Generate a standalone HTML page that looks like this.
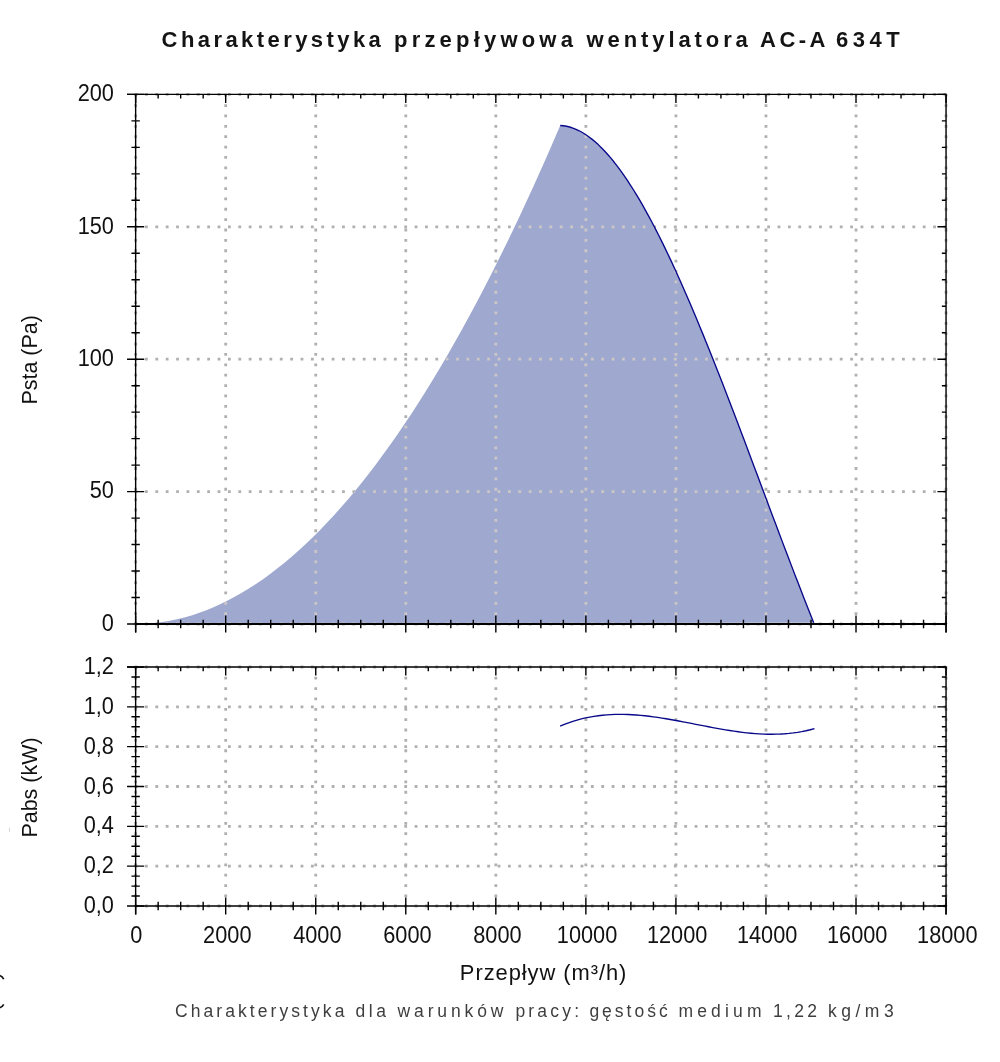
<!DOCTYPE html>
<html lang="pl"><head><meta charset="utf-8"><title>Charakterystyka przepływowa wentylatora AC-A 634T</title>
<style>html,body{margin:0;padding:0;background:#fff}svg{display:block}text{font-family:"Liberation Sans",sans-serif;fill:#111}.tk{font-size:23.9px}.al{font-size:21.9px}.ttl{font-weight:bold;font-size:22px;fill:#141414}.cap{font-size:17.5px;fill:#3e3e3e}</style></head><body>
<svg width="1000" height="1062" viewBox="0 0 1000 1062">
<rect width="1000" height="1062" fill="#fff"/>
<defs><clipPath id="fc"><path d="M135.65,624 L142.73,623.86 L149.8,623.45 L156.88,622.75 L163.95,621.78 L171.03,620.54 L178.11,619.01 L185.18,617.21 L192.26,615.14 L199.33,612.78 L206.41,610.15 L213.48,607.24 L220.56,604.06 L227.64,600.6 L234.71,596.86 L241.79,592.84 L248.86,588.55 L255.94,583.98 L263.02,579.13 L270.09,574.01 L277.17,568.61 L284.24,562.93 L291.32,556.98 L298.39,550.75 L305.47,544.24 L312.55,537.45 L319.62,530.39 L326.7,523.05 L333.77,515.44 L340.85,507.54 L347.93,499.38 L355,490.93 L362.08,482.2 L369.15,473.2 L376.23,463.93 L383.3,454.37 L390.38,444.54 L397.46,434.43 L404.53,424.05 L411.61,413.38 L418.68,402.44 L425.76,391.23 L432.84,379.74 L439.91,367.96 L446.99,355.92 L454.06,343.59 L461.14,330.99 L468.21,318.11 L475.29,304.96 L482.37,291.53 L489.44,277.82 L496.52,263.83 L503.59,249.57 L510.67,235.03 L517.75,220.22 L524.82,205.12 L531.9,189.75 L538.97,174.1 L546.05,158.18 L553.12,141.98 L560.2,125.5 L563.37,125.75 L566.54,126.25 L569.71,127.01 L572.88,128.02 L576.04,129.28 L579.21,130.78 L582.38,132.51 L585.55,134.48 L588.72,136.68 L591.89,139.11 L595.06,141.75 L598.23,144.62 L601.39,147.69 L604.56,150.98 L607.73,154.47 L610.9,158.16 L614.07,162.04 L617.24,166.12 L620.41,170.39 L623.58,174.84 L626.74,179.47 L629.91,184.28 L633.08,189.26 L636.25,194.4 L639.42,199.71 L642.59,205.18 L645.76,210.81 L648.93,216.58 L652.09,222.5 L655.26,228.57 L658.43,234.77 L661.6,241.11 L664.77,247.58 L667.94,254.17 L671.11,260.89 L674.28,267.73 L677.44,274.67 L680.61,281.73 L683.78,288.9 L686.95,296.16 L690.12,303.53 L693.29,310.98 L696.46,318.53 L699.62,326.16 L702.79,333.87 L705.96,341.66 L709.13,349.52 L712.3,357.45 L715.47,365.45 L718.64,373.5 L721.81,381.61 L724.98,389.77 L728.14,397.98 L731.31,406.24 L734.48,414.53 L737.65,422.86 L740.82,431.22 L743.99,439.61 L747.16,448.02 L750.33,456.45 L753.49,464.89 L756.66,473.35 L759.83,481.81 L763,490.27 L766.17,498.74 L769.34,507.19 L772.51,515.64 L775.68,524.07 L778.84,532.49 L782.01,540.88 L785.18,549.25 L788.35,557.58 L791.52,565.88 L794.69,574.14 L797.86,582.36 L801.03,590.53 L804.19,598.65 L807.36,606.72 L810.53,614.72 L813.7,622.66 Z"/></clipPath></defs>
<g stroke="#b0b0b0" stroke-width="2.8" stroke-dasharray="2.8 7.57" fill="none" >
<path d="M135.65,93.8 V624"/>
<path d="M135.65,666.4 V906"/>
<path d="M225.69,93.8 V624"/>
<path d="M225.69,666.4 V906"/>
<path d="M315.74,93.8 V624"/>
<path d="M315.74,666.4 V906"/>
<path d="M405.78,93.8 V624"/>
<path d="M405.78,666.4 V906"/>
<path d="M495.83,93.8 V624"/>
<path d="M495.83,666.4 V906"/>
<path d="M585.87,93.8 V624"/>
<path d="M585.87,666.4 V906"/>
<path d="M675.92,93.8 V624"/>
<path d="M675.92,666.4 V906"/>
<path d="M765.96,93.8 V624"/>
<path d="M765.96,666.4 V906"/>
<path d="M856.01,93.8 V624"/>
<path d="M856.01,666.4 V906"/>
<path d="M946.05,93.8 V624"/>
<path d="M946.05,666.4 V906"/>
<path d="M134.65,624 H946.05"/>
<path d="M134.65,491.6 H946.05"/>
<path d="M134.65,359.2 H946.05"/>
<path d="M134.65,226.8 H946.05"/>
<path d="M134.65,94.4 H946.05"/>
<path d="M134.65,906 H946.05"/>
<path d="M134.65,866.17 H946.05"/>
<path d="M134.65,826.33 H946.05"/>
<path d="M134.65,786.5 H946.05"/>
<path d="M134.65,746.67 H946.05"/>
<path d="M134.65,706.83 H946.05"/>
<path d="M134.65,667 H946.05"/>
</g>
<path d="M135.65,624 L142.73,623.86 L149.8,623.45 L156.88,622.75 L163.95,621.78 L171.03,620.54 L178.11,619.01 L185.18,617.21 L192.26,615.14 L199.33,612.78 L206.41,610.15 L213.48,607.24 L220.56,604.06 L227.64,600.6 L234.71,596.86 L241.79,592.84 L248.86,588.55 L255.94,583.98 L263.02,579.13 L270.09,574.01 L277.17,568.61 L284.24,562.93 L291.32,556.98 L298.39,550.75 L305.47,544.24 L312.55,537.45 L319.62,530.39 L326.7,523.05 L333.77,515.44 L340.85,507.54 L347.93,499.38 L355,490.93 L362.08,482.2 L369.15,473.2 L376.23,463.93 L383.3,454.37 L390.38,444.54 L397.46,434.43 L404.53,424.05 L411.61,413.38 L418.68,402.44 L425.76,391.23 L432.84,379.74 L439.91,367.96 L446.99,355.92 L454.06,343.59 L461.14,330.99 L468.21,318.11 L475.29,304.96 L482.37,291.53 L489.44,277.82 L496.52,263.83 L503.59,249.57 L510.67,235.03 L517.75,220.22 L524.82,205.12 L531.9,189.75 L538.97,174.1 L546.05,158.18 L553.12,141.98 L560.2,125.5 L563.37,125.75 L566.54,126.25 L569.71,127.01 L572.88,128.02 L576.04,129.28 L579.21,130.78 L582.38,132.51 L585.55,134.48 L588.72,136.68 L591.89,139.11 L595.06,141.75 L598.23,144.62 L601.39,147.69 L604.56,150.98 L607.73,154.47 L610.9,158.16 L614.07,162.04 L617.24,166.12 L620.41,170.39 L623.58,174.84 L626.74,179.47 L629.91,184.28 L633.08,189.26 L636.25,194.4 L639.42,199.71 L642.59,205.18 L645.76,210.81 L648.93,216.58 L652.09,222.5 L655.26,228.57 L658.43,234.77 L661.6,241.11 L664.77,247.58 L667.94,254.17 L671.11,260.89 L674.28,267.73 L677.44,274.67 L680.61,281.73 L683.78,288.9 L686.95,296.16 L690.12,303.53 L693.29,310.98 L696.46,318.53 L699.62,326.16 L702.79,333.87 L705.96,341.66 L709.13,349.52 L712.3,357.45 L715.47,365.45 L718.64,373.5 L721.81,381.61 L724.98,389.77 L728.14,397.98 L731.31,406.24 L734.48,414.53 L737.65,422.86 L740.82,431.22 L743.99,439.61 L747.16,448.02 L750.33,456.45 L753.49,464.89 L756.66,473.35 L759.83,481.81 L763,490.27 L766.17,498.74 L769.34,507.19 L772.51,515.64 L775.68,524.07 L778.84,532.49 L782.01,540.88 L785.18,549.25 L788.35,557.58 L791.52,565.88 L794.69,574.14 L797.86,582.36 L801.03,590.53 L804.19,598.65 L807.36,606.72 L810.53,614.72 L813.7,622.66 Z" fill="#9fa9d0"/>
<g stroke="#ccc6c6" stroke-width="2.8" stroke-dasharray="2.8 7.57" fill="none" clip-path="url(#fc)">
<path d="M135.65,93.8 V624"/>
<path d="M135.65,666.4 V906"/>
<path d="M225.69,93.8 V624"/>
<path d="M225.69,666.4 V906"/>
<path d="M315.74,93.8 V624"/>
<path d="M315.74,666.4 V906"/>
<path d="M405.78,93.8 V624"/>
<path d="M405.78,666.4 V906"/>
<path d="M495.83,93.8 V624"/>
<path d="M495.83,666.4 V906"/>
<path d="M585.87,93.8 V624"/>
<path d="M585.87,666.4 V906"/>
<path d="M675.92,93.8 V624"/>
<path d="M675.92,666.4 V906"/>
<path d="M765.96,93.8 V624"/>
<path d="M765.96,666.4 V906"/>
<path d="M856.01,93.8 V624"/>
<path d="M856.01,666.4 V906"/>
<path d="M946.05,93.8 V624"/>
<path d="M946.05,666.4 V906"/>
<path d="M134.65,624 H946.05"/>
<path d="M134.65,491.6 H946.05"/>
<path d="M134.65,359.2 H946.05"/>
<path d="M134.65,226.8 H946.05"/>
<path d="M134.65,94.4 H946.05"/>
<path d="M134.65,906 H946.05"/>
<path d="M134.65,866.17 H946.05"/>
<path d="M134.65,826.33 H946.05"/>
<path d="M134.65,786.5 H946.05"/>
<path d="M134.65,746.67 H946.05"/>
<path d="M134.65,706.83 H946.05"/>
<path d="M134.65,667 H946.05"/>
</g>
<path d="M560.2,125.5 L563.37,125.75 L566.54,126.25 L569.71,127.01 L572.88,128.02 L576.04,129.28 L579.21,130.78 L582.38,132.51 L585.55,134.48 L588.72,136.68 L591.89,139.11 L595.06,141.75 L598.23,144.62 L601.39,147.69 L604.56,150.98 L607.73,154.47 L610.9,158.16 L614.07,162.04 L617.24,166.12 L620.41,170.39 L623.58,174.84 L626.74,179.47 L629.91,184.28 L633.08,189.26 L636.25,194.4 L639.42,199.71 L642.59,205.18 L645.76,210.81 L648.93,216.58 L652.09,222.5 L655.26,228.57 L658.43,234.77 L661.6,241.11 L664.77,247.58 L667.94,254.17 L671.11,260.89 L674.28,267.73 L677.44,274.67 L680.61,281.73 L683.78,288.9 L686.95,296.16 L690.12,303.53 L693.29,310.98 L696.46,318.53 L699.62,326.16 L702.79,333.87 L705.96,341.66 L709.13,349.52 L712.3,357.45 L715.47,365.45 L718.64,373.5 L721.81,381.61 L724.98,389.77 L728.14,397.98 L731.31,406.24 L734.48,414.53 L737.65,422.86 L740.82,431.22 L743.99,439.61 L747.16,448.02 L750.33,456.45 L753.49,464.89 L756.66,473.35 L759.83,481.81 L763,490.27 L766.17,498.74 L769.34,507.19 L772.51,515.64 L775.68,524.07 L778.84,532.49 L782.01,540.88 L785.18,549.25 L788.35,557.58 L791.52,565.88 L794.69,574.14 L797.86,582.36 L801.03,590.53 L804.19,598.65 L807.36,606.72 L810.53,614.72 L813.7,622.66" fill="none" stroke="#08088a" stroke-width="1.35" stroke-linejoin="round"/>
<path d="M560.1,726.16 L564.34,724.4 L568.58,722.81 L572.82,721.37 L577.06,720.08 L581.3,718.93 L585.54,717.93 L589.78,717.06 L594.02,716.32 L598.26,715.71 L602.5,715.22 L606.74,714.84 L610.98,714.57 L615.22,714.41 L619.46,714.35 L623.7,714.38 L627.94,714.5 L632.18,714.71 L636.42,714.99 L640.66,715.35 L644.9,715.77 L649.14,716.26 L653.38,716.81 L657.62,717.41 L661.86,718.05 L666.1,718.74 L670.34,719.47 L674.58,720.22 L678.82,721.01 L683.06,721.81 L687.3,722.63 L691.54,723.46 L695.78,724.3 L700.02,725.13 L704.26,725.96 L708.5,726.78 L712.74,727.59 L716.98,728.37 L721.22,729.13 L725.46,729.85 L729.7,730.54 L733.94,731.18 L738.18,731.78 L742.42,732.33 L746.66,732.82 L750.9,733.24 L755.14,733.6 L759.38,733.89 L763.62,734.09 L767.86,734.22 L772.1,734.25 L776.34,734.19 L780.58,734.03 L784.82,733.77 L789.06,733.4 L793.3,732.92 L797.54,732.31 L801.78,731.58 L806.02,730.73 L810.26,729.74 L814.5,728.61" fill="none" stroke="#08088a" stroke-width="1.35" stroke-linejoin="round"/>
<g stroke="#000" fill="none">
<path d="M127.05,94.4 H946.75 M135.65,93.7 V632.6 M946.05,94.4 V632.6" stroke-width="1.4"/>
<path d="M134.95,624 H946.75" stroke-width="1.95"/>
<path d="M135.65,615.4 V632.6 M135.65,94.4 V103 M158.16,619.8 V628.2 M158.16,94.4 V98.6 M180.67,619.8 V628.2 M180.67,94.4 V98.6 M203.18,619.8 V628.2 M203.18,94.4 V98.6 M225.69,615.4 V632.6 M225.69,94.4 V103 M248.21,619.8 V628.2 M248.21,94.4 V98.6 M270.72,619.8 V628.2 M270.72,94.4 V98.6 M293.23,619.8 V628.2 M293.23,94.4 V98.6 M315.74,615.4 V632.6 M315.74,94.4 V103 M338.25,619.8 V628.2 M338.25,94.4 V98.6 M360.76,619.8 V628.2 M360.76,94.4 V98.6 M383.27,619.8 V628.2 M383.27,94.4 V98.6 M405.78,615.4 V632.6 M405.78,94.4 V103 M428.29,619.8 V628.2 M428.29,94.4 V98.6 M450.81,619.8 V628.2 M450.81,94.4 V98.6 M473.32,619.8 V628.2 M473.32,94.4 V98.6 M495.83,615.4 V632.6 M495.83,94.4 V103 M518.34,619.8 V628.2 M518.34,94.4 V98.6 M540.85,619.8 V628.2 M540.85,94.4 V98.6 M563.36,619.8 V628.2 M563.36,94.4 V98.6 M585.87,615.4 V632.6 M585.87,94.4 V103 M608.38,619.8 V628.2 M608.38,94.4 V98.6 M630.89,619.8 V628.2 M630.89,94.4 V98.6 M653.41,619.8 V628.2 M653.41,94.4 V98.6 M675.92,615.4 V632.6 M675.92,94.4 V103 M698.43,619.8 V628.2 M698.43,94.4 V98.6 M720.94,619.8 V628.2 M720.94,94.4 V98.6 M743.45,619.8 V628.2 M743.45,94.4 V98.6 M765.96,615.4 V632.6 M765.96,94.4 V103 M788.47,619.8 V628.2 M788.47,94.4 V98.6 M810.98,619.8 V628.2 M810.98,94.4 V98.6 M833.49,619.8 V628.2 M833.49,94.4 V98.6 M856.01,615.4 V632.6 M856.01,94.4 V103 M878.52,619.8 V628.2 M878.52,94.4 V98.6 M901.03,619.8 V628.2 M901.03,94.4 V98.6 M923.54,619.8 V628.2 M923.54,94.4 V98.6 M946.05,615.4 V632.6 M946.05,94.4 V103 M127.05,624 H144.25 M937.45,624 H946.05 M127.05,491.6 H144.25 M937.45,491.6 H946.05 M127.05,359.2 H144.25 M937.45,359.2 H946.05 M127.05,226.8 H144.25 M937.45,226.8 H946.05 M127.05,94.4 H144.25 M937.45,94.4 H946.05 M131.45,597.52 H139.85 M941.85,597.52 H946.05 M131.45,571.04 H139.85 M941.85,571.04 H946.05 M131.45,544.56 H139.85 M941.85,544.56 H946.05 M131.45,518.08 H139.85 M941.85,518.08 H946.05 M131.45,465.12 H139.85 M941.85,465.12 H946.05 M131.45,438.64 H139.85 M941.85,438.64 H946.05 M131.45,412.16 H139.85 M941.85,412.16 H946.05 M131.45,385.68 H139.85 M941.85,385.68 H946.05 M131.45,332.72 H139.85 M941.85,332.72 H946.05 M131.45,306.24 H139.85 M941.85,306.24 H946.05 M131.45,279.76 H139.85 M941.85,279.76 H946.05 M131.45,253.28 H139.85 M941.85,253.28 H946.05 M131.45,200.32 H139.85 M941.85,200.32 H946.05 M131.45,173.84 H139.85 M941.85,173.84 H946.05 M131.45,147.36 H139.85 M941.85,147.36 H946.05 M131.45,120.88 H139.85 M941.85,120.88 H946.05" stroke-width="1.4"/>
<path d="M127.05,667 H946.75 M135.65,666.3 V914.6 M946.05,667 V914.6" stroke-width="1.4"/>
<path d="M134.95,906 H946.75" stroke-width="1.4"/>
<path d="M135.65,897.4 V914.6 M135.65,667 V675.6 M158.16,901.8 V910.2 M158.16,667 V671.2 M180.67,901.8 V910.2 M180.67,667 V671.2 M203.18,901.8 V910.2 M203.18,667 V671.2 M225.69,897.4 V914.6 M225.69,667 V675.6 M248.21,901.8 V910.2 M248.21,667 V671.2 M270.72,901.8 V910.2 M270.72,667 V671.2 M293.23,901.8 V910.2 M293.23,667 V671.2 M315.74,897.4 V914.6 M315.74,667 V675.6 M338.25,901.8 V910.2 M338.25,667 V671.2 M360.76,901.8 V910.2 M360.76,667 V671.2 M383.27,901.8 V910.2 M383.27,667 V671.2 M405.78,897.4 V914.6 M405.78,667 V675.6 M428.29,901.8 V910.2 M428.29,667 V671.2 M450.81,901.8 V910.2 M450.81,667 V671.2 M473.32,901.8 V910.2 M473.32,667 V671.2 M495.83,897.4 V914.6 M495.83,667 V675.6 M518.34,901.8 V910.2 M518.34,667 V671.2 M540.85,901.8 V910.2 M540.85,667 V671.2 M563.36,901.8 V910.2 M563.36,667 V671.2 M585.87,897.4 V914.6 M585.87,667 V675.6 M608.38,901.8 V910.2 M608.38,667 V671.2 M630.89,901.8 V910.2 M630.89,667 V671.2 M653.41,901.8 V910.2 M653.41,667 V671.2 M675.92,897.4 V914.6 M675.92,667 V675.6 M698.43,901.8 V910.2 M698.43,667 V671.2 M720.94,901.8 V910.2 M720.94,667 V671.2 M743.45,901.8 V910.2 M743.45,667 V671.2 M765.96,897.4 V914.6 M765.96,667 V675.6 M788.47,901.8 V910.2 M788.47,667 V671.2 M810.98,901.8 V910.2 M810.98,667 V671.2 M833.49,901.8 V910.2 M833.49,667 V671.2 M856.01,897.4 V914.6 M856.01,667 V675.6 M878.52,901.8 V910.2 M878.52,667 V671.2 M901.03,901.8 V910.2 M901.03,667 V671.2 M923.54,901.8 V910.2 M923.54,667 V671.2 M946.05,897.4 V914.6 M946.05,667 V675.6 M127.05,906 H144.25 M937.45,906 H946.05 M127.05,866.17 H144.25 M937.45,866.17 H946.05 M127.05,826.33 H144.25 M937.45,826.33 H946.05 M127.05,786.5 H144.25 M937.45,786.5 H946.05 M127.05,746.67 H144.25 M937.45,746.67 H946.05 M127.05,706.83 H144.25 M937.45,706.83 H946.05 M127.05,667 H144.25 M937.45,667 H946.05 M131.45,896.04 H139.85 M941.85,896.04 H946.05 M131.45,886.08 H139.85 M941.85,886.08 H946.05 M131.45,876.12 H139.85 M941.85,876.12 H946.05 M131.45,856.21 H139.85 M941.85,856.21 H946.05 M131.45,846.25 H139.85 M941.85,846.25 H946.05 M131.45,836.29 H139.85 M941.85,836.29 H946.05 M131.45,816.38 H139.85 M941.85,816.38 H946.05 M131.45,806.42 H139.85 M941.85,806.42 H946.05 M131.45,796.46 H139.85 M941.85,796.46 H946.05 M131.45,776.54 H139.85 M941.85,776.54 H946.05 M131.45,766.58 H139.85 M941.85,766.58 H946.05 M131.45,756.62 H139.85 M941.85,756.62 H946.05 M131.45,736.71 H139.85 M941.85,736.71 H946.05 M131.45,726.75 H139.85 M941.85,726.75 H946.05 M131.45,716.79 H139.85 M941.85,716.79 H946.05 M131.45,696.88 H139.85 M941.85,696.88 H946.05 M131.45,686.92 H139.85 M941.85,686.92 H946.05 M131.45,676.96 H139.85 M941.85,676.96 H946.05" stroke-width="1.4"/>
</g>
<text class="tk" text-anchor="end" transform="translate(113.9,630.8) scale(0.91,1)">0</text>
<text class="tk" text-anchor="end" transform="translate(113.9,498.4) scale(0.91,1)">50</text>
<text class="tk" text-anchor="end" transform="translate(113.9,366) scale(0.91,1)">100</text>
<text class="tk" text-anchor="end" transform="translate(113.9,233.6) scale(0.91,1)">150</text>
<text class="tk" text-anchor="end" transform="translate(113.9,101.2) scale(0.91,1)">200</text>
<text class="tk" text-anchor="end" transform="translate(113.9,913) scale(0.91,1)">0,0</text>
<text class="tk" text-anchor="end" transform="translate(113.9,873.17) scale(0.91,1)">0,2</text>
<text class="tk" text-anchor="end" transform="translate(113.9,833.33) scale(0.91,1)">0,4</text>
<text class="tk" text-anchor="end" transform="translate(113.9,793.5) scale(0.91,1)">0,6</text>
<text class="tk" text-anchor="end" transform="translate(113.9,753.67) scale(0.91,1)">0,8</text>
<text class="tk" text-anchor="end" transform="translate(113.9,713.83) scale(0.91,1)">1,0</text>
<text class="tk" text-anchor="end" transform="translate(113.9,674) scale(0.91,1)">1,2</text>
<text class="tk" text-anchor="middle" transform="translate(136.35,942.9) scale(0.91,1)">0</text>
<text class="tk" text-anchor="middle" transform="translate(227.29,942.9) scale(0.91,1)">2000</text>
<text class="tk" text-anchor="middle" transform="translate(317.34,942.9) scale(0.91,1)">4000</text>
<text class="tk" text-anchor="middle" transform="translate(407.38,942.9) scale(0.91,1)">6000</text>
<text class="tk" text-anchor="middle" transform="translate(497.43,942.9) scale(0.91,1)">8000</text>
<text class="tk" text-anchor="middle" transform="translate(587.07,942.9) scale(0.91,1)">10000</text>
<text class="tk" text-anchor="middle" transform="translate(677.12,942.9) scale(0.91,1)">12000</text>
<text class="tk" text-anchor="middle" transform="translate(767.16,942.9) scale(0.91,1)">14000</text>
<text class="tk" text-anchor="middle" transform="translate(857.21,942.9) scale(0.91,1)">16000</text>
<text class="tk" text-anchor="middle" transform="translate(947.25,942.9) scale(0.91,1)">18000</text>
<g class="al" text-anchor="middle">
<text x="543.6" y="980.3" letter-spacing="0.95">Przepływ (m³/h)</text>
<text style="font-size:22.6px" transform="translate(37.2,359.9) rotate(-90) scale(0.95,1)">Psta (Pa)</text>
<text style="font-size:22.6px" transform="translate(37.2,787.5) rotate(-90) scale(0.95,1)">Pabs (kW)</text>
</g>
<text class="ttl" y="47" transform="scale(1.0,1)"><tspan x="161.6" letter-spacing="3.43">Charakterystyka</tspan> <tspan x="394" letter-spacing="4.2">przepływowa</tspan> <tspan x="586.6" letter-spacing="3.9">wentylatora</tspan> <tspan x="760" letter-spacing="3.5">AC-A</tspan> <tspan x="836" letter-spacing="4.5">634T</tspan></text>
<text class="cap" y="1017.2" transform="scale(1,1)"><tspan x="175" letter-spacing="3.07">Charakterystyka</tspan> <tspan x="355.6" letter-spacing="3.5">dla</tspan> <tspan x="397.6" letter-spacing="3.86">warunków</tspan> <tspan x="515.4" letter-spacing="3.2">pracy:</tspan> <tspan x="589.4" letter-spacing="3">gęstość</tspan> <tspan x="678.4" letter-spacing="4.2">medium</tspan> <tspan x="773" letter-spacing="3.33">1,22</tspan> <tspan x="828" letter-spacing="4.5">kg/m3</tspan></text>
<path d="M-1,975.4 Q2.4,976.1 3.7,979.3 M-1,1007.8 Q2.3,1007.2 3.7,1004.3" fill="none" stroke="#151515" stroke-width="1.7"/>
<path d="M9.5,827.7 V831.7" fill="none" stroke="#d0d0d0" stroke-width="0.9"/>
</svg></body></html>
